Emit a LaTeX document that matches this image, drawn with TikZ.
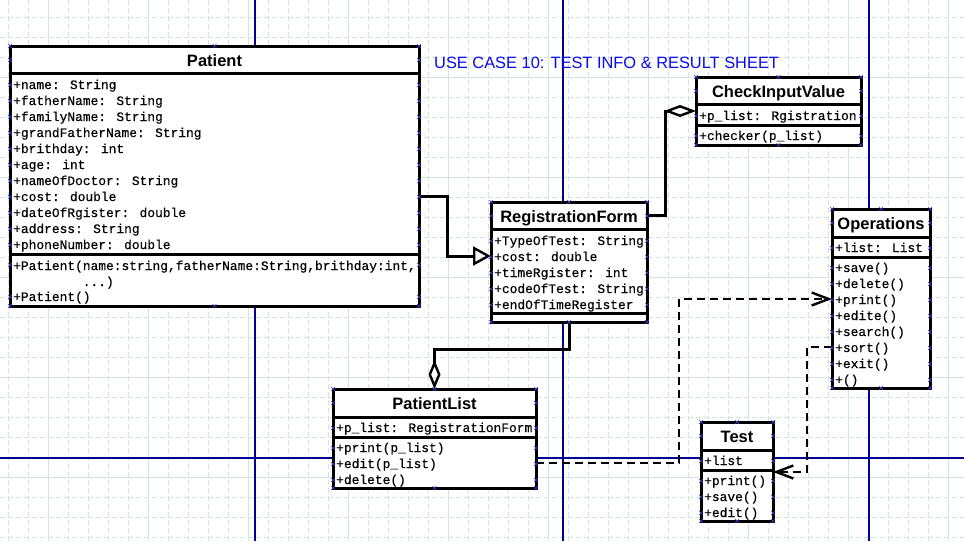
\documentclass[tikz,border=0pt]{standalone}
\usepackage{fontspec}
\setmainfont{Liberation Sans}
\newfontfamily\monof[FakeBold=0.3]{Liberation Mono}
\usetikzlibrary{arrows.meta}
\definecolor{gridc}{RGB}{210,228,224}
\definecolor{pagec}{RGB}{0,0,150}
\definecolor{titlec}{RGB}{10,10,235}
\definecolor{handc}{RGB}{60,60,220}
\newcommand\umlcls[7]{%
  \node[boxst, minimum width={#4-#2}, minimum height={#5-#3}] (#1) at (#2,#3) {};
  \draw[sepst] (#2,#6) -- (#4,#6) (#2,#7) -- (#4,#7);}
\newcommand\hnds[5]{%
  \pgfmathsetmacro\hmidx{(#1+#2)/2}
  \foreach \px in {#1,\hmidx,#2} {\pic at (\px,#3) {hx}; \pic at (\px,#4) {hx};}
  \foreach \yy in {#5} {\pic at (#1,\yy) {hx}; \pic at (#2,\yy) {hx};}}
\begin{document}
\begin{tikzpicture}[x=1pt,y=-1pt,
  boxst/.style={draw=black, fill=white, line width=3pt, inner sep=0pt, outer sep=0pt, anchor=north west},
  sepst/.style={line width=3pt},
  cname/.style={font=\bfseries\fontsize{16.5}{18}\selectfont, anchor=base, inner sep=0pt},
  attr/.style={font=\monof\fontsize{12.9}{14}\selectfont, anchor=base west, inner sep=0pt},
  conn/.style={line width=3pt},
  dep/.style={line width=2.8pt, dash pattern=on 8pt off 5pt},
  hnd/.style={draw=handc, line width=0.6pt},
  hx/.pic={\draw[hnd] (-2,-2)--(2,2) (-2,2)--(2,-2);}
]
\useasboundingbox (0,0) rectangle (964,541);
\fill[white] (0,0) rectangle (964,541);
% grid
\foreach \i in {0,...,47} \draw[gridc, line width=0.8pt, dash pattern=on 5pt off 3pt] ({8+20*\i},0) -- ({8+20*\i},541);
\foreach \i in {0,...,26} \draw[gridc, line width=0.8pt, dash pattern=on 5pt off 3pt] (0,{17+20*\i}) -- (964,{17+20*\i});
\foreach \x in {48,148,...,948} \draw[gridc, line width=0.8pt] (\x,0) -- (\x,541);
\foreach \y in {77,177,...,477} \draw[gridc, line width=0.8pt] (0,\y) -- (964,\y);
% page lines
\draw[pagec, line width=1.2pt] (255,0) -- (255,541) (563,0) -- (563,541) (869,0) -- (869,541) (0,458) -- (964,458);
% title
\node[titlec, font=\fontsize{16.4}{18}\selectfont, anchor=base west, inner sep=0pt] (title) at (434,68) {USE CASE 10: TEST INFO \& RESULT SHEET};

% Patient
\umlcls{patient}{10}{46}{419}{306}{73}{254}
\node[cname] (patientT) at (214.5,66) {Patient};
\foreach \t [count=\i from 0] in {+name: String,+fatherName: String,+familyName: String,+grandFatherName: String,+brithday: int,+age: int,+nameOfDoctor: String,+cost: double,+dateOfRgister: double,+address: String,+phoneNumber: double}
  \node[attr] (pa\i) at (13,{89+16*\i}) {\t};
\node[attr] (pm0) at (13,270) {+Patient(name:string,fatherName:String,brithday:int,};
\node[attr] (pm1) at (13,286) {\hphantom{+Patient(}...)};
\node[attr] (pm2) at (13,301) {+Patient()};

% CheckInputValue
\umlcls{check}{696}{77}{861}{145}{104}{125}
\node[cname] (checkT) at (778.5,97) {CheckInputValue};
\node[attr] (ca0) at (699,120) {+p\_list: Rgistration};
\node[attr] (cm0) at (699,140) {+checker(p\_list)};

% RegistrationForm
\umlcls{reg}{491}{202}{647}{322}{229}{313}
\node[cname] (regT) at (569,222) {RegistrationForm};
\foreach \t [count=\i from 0] in {+TypeOfTest: String,+cost: double,+timeRgister: int,+codeOfTest: String,+endOfTimeRegister}
  \node[attr] (ra\i) at (494,{245+16*\i}) {\t};

% Operations
\umlcls{ops}{832}{209}{930}{388}{237}{257}
\node[cname] (opsT) at (881,229) {Operations};
\node[attr] (oa0) at (835,252) {+list: List};
\foreach \t [count=\i from 0] in {+save(),+delete(),+print(),+edite(),+search(),+sort(),+exit(),+()}
  \node[attr] (om\i) at (835,{272+16*\i}) {\t};

% PatientList
\umlcls{plist}{333}{389}{536}{488}{417}{437}
\node[cname] (plistT) at (434.5,409) {PatientList};
\node[attr] (la0) at (336,432) {+p\_list: RegistrationForm};
\foreach \t [count=\i from 0] in {+print(p\_list),+edit(p\_list),+delete()}
  \node[attr] (lm\i) at (336,{452+16*\i}) {\t};

% Test
\umlcls{test}{701}{422}{773}{521}{450}{470}
\node[cname] (testT) at (737,442) {Test};
\node[attr] (ta0) at (704,465) {+list};
\foreach \t [count=\i from 0] in {+print(),+save(),+edit()}
  \node[attr] (tm\i) at (704,{485+16*\i}) {\t};

% connectors
\draw[conn, -{Triangle[open, length=18pt, width=19pt, line width=2.4pt]}] (patient.east |- 0,196) -| (447,256) -- (reg.west |- 0,256);
\draw[conn, {Diamond[open, length=32pt, width=12pt, line width=2.4pt]}-] (check.west |- 0,111) -| (665,215) -- (reg.east |- 0,215);
\draw[conn, {Diamond[open, length=29pt, width=12pt, line width=2.4pt]}-] (plist.north) |- (569,349) -- (reg.south);
\draw[dep, -{Straight Barb[length=17pt, width=13pt, line width=2.4pt]}] (plist.east |- 0,463) -| (679,299) -- (ops.west |- 0,299);
\draw[dep, -{Straight Barb[length=17pt, width=13pt, line width=2.4pt]}] (ops.west |- 0,347) -| (807,472) -- (test.east |- 0,472);

% selection handles
\hnds{10}{419}{46}{306}{60,85,101,117,133,149,165,181,197,213,229,245,265,297}
\hnds{696}{861}{77}{145}{91,116,136}
\hnds{491}{647}{202}{322}{216,241,257,273,289,305}
\hnds{832}{930}{209}{388}{223,248,268,284,300,316,332,348,364,380}
\hnds{333}{536}{389}{488}{403,428,448,464,480}
\hnds{701}{773}{422}{521}{436,461,481,497,513}
\end{tikzpicture}
\end{document}
